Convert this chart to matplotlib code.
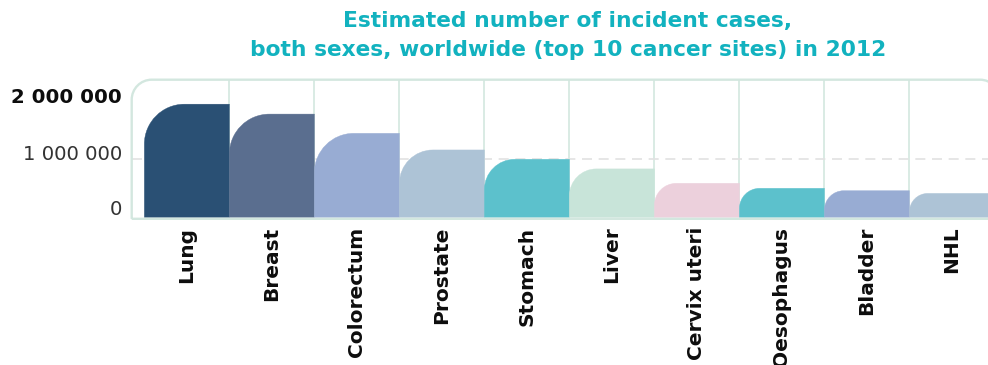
import numpy as np
import matplotlib
matplotlib.use("Agg")
import matplotlib.pyplot as plt
from matplotlib.path import Path
from matplotlib.patches import PathPatch
import matplotlib.transforms as mtransforms

# ---- data ----
categories = ["Lung", "Breast", "Colorectum", "Prostate", "Stomach", "Liver",
              "Cervix uteri", "Oesophagus", "Bladder", "NHL"]
cases = [1940000, 1770000, 1440000, 1155000, 995000, 830000,
         583000, 497000, 456000, 410000]
colors = ["#2a5074", "#5a6e8f", "#98acd3", "#adc3d6", "#5cc1cc", "#c8e4d9",
          "#ecd0dc", "#5cc1cc", "#98acd3", "#adc3d6"]
ytick_values = [0, 1000000, 2000000]
ytick_labels = ["0", "1 000 000", "2 000 000"]
title = "Estimated number of incident cases,\nboth sexes, worldwide (top 10 cancer sites) in 2012"

W, H = 988, 365
fig = plt.figure(figsize=(W / 100, H / 100), dpi=100)
plt.rcParams['font.family'] = ['DejaVu Sans']

# axes placement (pixels, top-left origin)
L, T, R, B = 131.7, 79.7, 997.0, 219.0
ax = fig.add_axes([L / W, 1 - B / H, (R - L) / W, (B - T) / H])
ax.set_facecolor("none")
for s in ax.spines.values():
    s.set_visible(False)

n = len(categories)
ax.set_xlim(-0.5 - 0.149, n - 0.5 + 0.03)
ax.set_ylim(-29000, 2360000)

# pixel scales
p0 = ax.transData.transform((0, 0))
p1 = ax.transData.transform((1, 1000000))
px_x = p1[0] - p0[0]
px_y = (p1[1] - p0[1]) / 1000000.0

# grid: vertical separators and dashed 1M line
ax.vlines([i + 0.5 for i in range(n - 1)], 0, 2360000, color="#d3e7df", lw=1.2, zorder=1)
ax.axhline(1000000, color="#e2e2e2", lw=1.2, ls=(0, (6, 4)), zorder=1)

# bars with rounded top-left corner
k = 0.5523
for i, (v, c) in enumerate(zip(cases, colors)):
    x0, x1 = i - 0.5, i + 0.5
    h_px = v * px_y
    r_px = min(40.0, 0.35 * h_px + 10.0)
    rx, ry = r_px / px_x, r_px / px_y
    verts = [(x0, 0), (x1, 0), (x1, v), (x0 + rx, v),
             (x0 + rx - k * rx, v), (x0, v - ry + k * ry), (x0, v - ry),
             (x0, 0)]
    codes = [Path.MOVETO, Path.LINETO, Path.LINETO, Path.LINETO,
             Path.CURVE4, Path.CURVE4, Path.CURVE4, Path.CLOSEPOLY]
    ax.add_patch(PathPatch(Path(verts, codes), facecolor=c, edgecolor=c,
                           lw=0.3, zorder=2))

# frame with rounded top corners (pixel coords)
px2fig = mtransforms.Affine2D().scale(1 / W, -1 / H).translate(0, 1) + fig.transFigure
fr = 20.0
FL, FT, FR, FB = 131.7, 79.7, 1000.0, 218.8
fverts = [(FL, FB), (FL, FT + fr), (FL, FT + fr - k * fr), (FL + fr - k * fr, FT), (FL + fr, FT),
          (FR - fr, FT), (FR - fr + k * fr, FT), (FR, FT + fr - k * fr), (FR, FT + fr),
          (FR, FB), (FL, FB)]
fcodes = [Path.MOVETO, Path.LINETO, Path.CURVE4, Path.CURVE4, Path.CURVE4,
          Path.LINETO, Path.CURVE4, Path.CURVE4, Path.CURVE4, Path.LINETO, Path.CLOSEPOLY]
fig.patches.append(PathPatch(Path(fverts, fcodes), transform=px2fig, facecolor="none",
                             edgecolor="#d3e7df", lw=1.7, zorder=5))

# x labels
ax.set_xticks(range(n))
ax.set_xticklabels(categories, rotation=90, fontsize=14.5, fontweight="bold",
                   color="#0d0d0d", va="top", ha="center")
ax.tick_params(axis="x", length=0, pad=5.5)

# y labels
ax.set_yticks(ytick_values)
ax.set_yticklabels(ytick_labels, fontsize=14.2, color="#333333")
ax.tick_params(axis="y", length=0, pad=7)
offsets_px = [10, 7, 5]
for lab, off in zip(ax.get_yticklabels(), offsets_px):
    lab.set_transform(lab.get_transform() +
                      mtransforms.ScaledTranslation(0, off / 100.0, fig.dpi_scale_trans))
ax.get_yticklabels()[2].set_fontweight("bold")
ax.get_yticklabels()[2].set_color("#0d0d0d")

fig.text(568 / W, 1 - 35.5 / H, title, ha="center", va="center", fontsize=15.7,
         fontweight="bold", color="#12b2bf", linespacing=1.55)

fig.savefig("out.png", dpi=100)
